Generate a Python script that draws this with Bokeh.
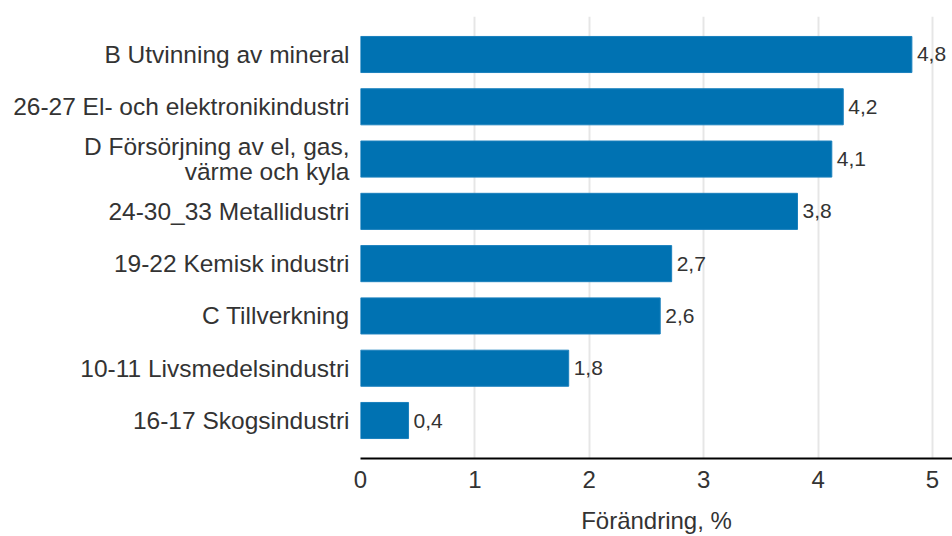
from bokeh.plotting import figure
from bokeh.models import ColumnDataSource, FactorRange, Range1d, LabelSet, FixedTicker
from bokeh.core.properties import value
from bokeh.embed import file_html
from bokeh.resources import INLINE

categories = [
    "B Utvinning av mineral",
    "26-27 El- och elektronikindustri",
    "D Försörjning av el, gas,\nvärme och kyla",
    "24-30_33 Metallidustri",
    "19-22 Kemisk industri",
    "C Tillverkning",
    "10-11 Livsmedelsindustri",
    "16-17 Skogsindustri",
]
values = [4.82, 4.22, 4.12, 3.82, 2.72, 2.62, 1.82, 0.42]
value_labels = ["4,8", "4,2", "4,1", "3,8", "2,7", "2,6", "1,8", "0,4"]
x_ticks = [0, 1, 2, 3, 4, 5]
x_title = "Förändring, %"

FONT = "Liberation Sans"
TXT = "#333333"

source = ColumnDataSource(dict(cat=categories, val=values, lab=value_labels))

p = figure(
    width=952, height=536,
    y_range=FactorRange(factors=list(reversed(categories)), range_padding=0.2267,
                        range_padding_units="absolute"),
    x_range=Range1d(0, 5.175),
    output_backend="svg", toolbar_location=None,
    min_border_left=360, min_border_right=0, min_border_top=16, min_border_bottom=78,
)

p.hbar(y="cat", right="val", left=0, height=0.69, source=source,
       fill_color="#0072b2", line_color="#1a80bd", line_width=1)

labels = LabelSet(x="val", y="cat", text="lab", source=source, x_offset=5,
                  text_align="left", text_baseline="middle",
                  text_font=value(FONT), text_font_size="21px", text_color=TXT)
p.add_layout(labels)

p.outline_line_color = None
p.ygrid.grid_line_color = None
p.xgrid.grid_line_color = "#e6e6e6"
p.xgrid.grid_line_width = 2
p.xgrid.ticker = FixedTicker(ticks=x_ticks)

p.xaxis.ticker = FixedTicker(ticks=x_ticks)
p.xaxis.axis_line_color = "#000000"
p.xaxis.axis_line_width = 2
p.xaxis.major_tick_line_color = None
p.xaxis.minor_tick_line_color = None
p.xaxis.major_label_text_font = FONT
p.xaxis.major_label_text_font_size = "24px"
p.xaxis.major_label_text_color = TXT
p.xaxis.major_label_standoff = 6
p.xaxis.axis_label = x_title
p.xaxis.axis_label_text_font = FONT
p.xaxis.axis_label_text_font_size = "24px"
p.xaxis.axis_label_text_font_style = "normal"
p.xaxis.axis_label_text_color = TXT
p.xaxis.axis_label_standoff = 16

p.yaxis.axis_line_color = None
p.yaxis.major_tick_line_color = None
p.yaxis.minor_tick_line_color = None
p.yaxis.major_label_text_font = FONT
p.yaxis.major_label_text_font_size = "24.5px"
p.yaxis.major_label_text_line_height = 0.95
p.yaxis.major_label_text_color = TXT
p.yaxis.major_label_standoff = 5

open("out.html", "w").write(file_html(p, INLINE))
